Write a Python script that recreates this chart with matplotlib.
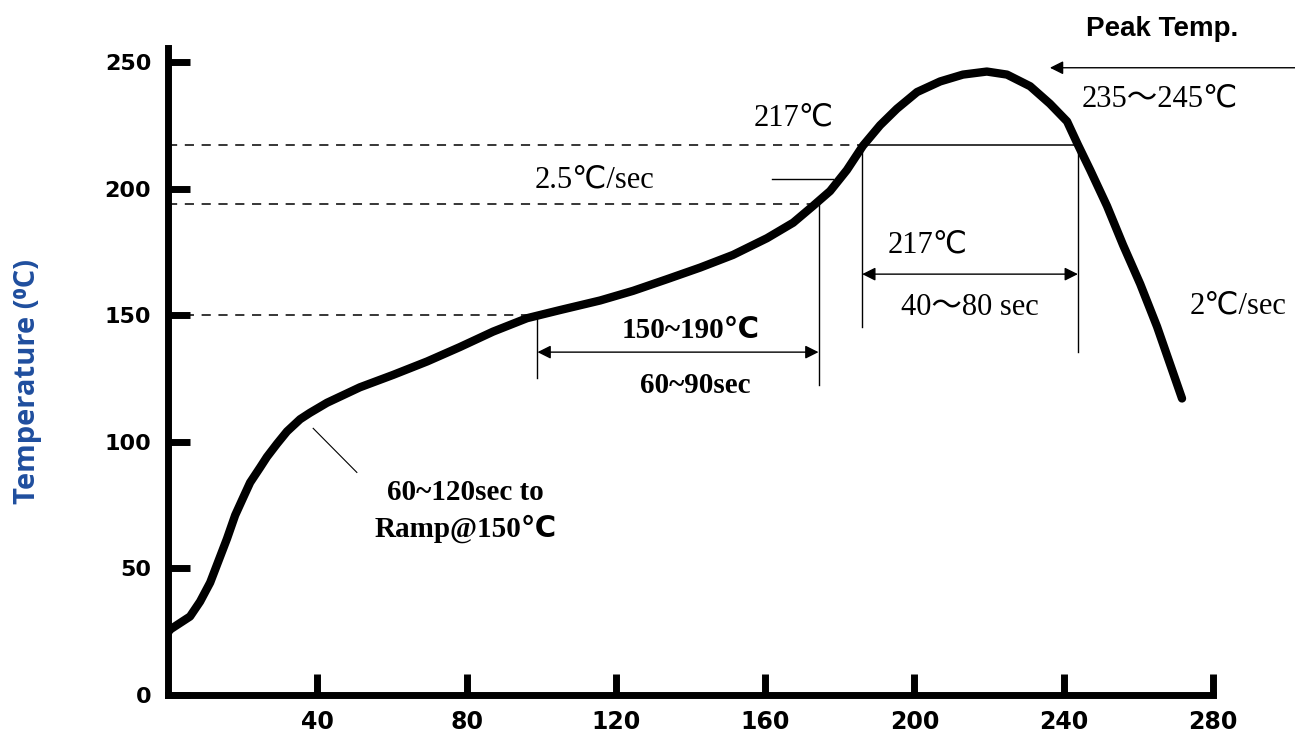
import matplotlib
matplotlib.use('Agg')
import matplotlib.pyplot as plt

# Perfil de refusao (tempo em s, temperatura em C)
tempo = [0, 0.5, 5.9, 8.6, 11.3, 15.8, 18.0, 20.1, 22.0, 24.7, 26.5, 29.2, 31.9, 35.4, 38.0,
         42.6, 51.4, 60.3, 69.4, 78.2, 87.1, 96.2, 105.0, 115.8, 124.6, 133.7, 142.6, 151.4,
         160.5, 167.5, 172.8, 177.4, 181.9, 186.2, 190.8, 195.3, 200.7, 206.9, 213.0, 219.4,
         224.8, 231.0, 236.3, 240.9, 243.8, 247.1, 251.6, 255.9, 260.5, 265.0, 271.7]
temperatura = [24.6, 25.8, 31.0, 36.9, 44.4, 61.7, 71.0, 77.8, 83.9, 89.9, 94.0, 99.2, 104.1,
               108.9, 111.4, 115.4, 121.5, 126.4, 131.7, 137.4, 143.5, 148.8, 152.0, 155.8,
               159.6, 164.2, 168.8, 173.8, 180.4, 186.5, 193.1, 199.0, 207.3, 216.9, 225.0,
               231.5, 238.1, 242.3, 245.0, 246.2, 245.0, 240.4, 233.5, 226.5, 217.3, 207.3,
               193.1, 177.7, 162.3, 145.5, 117.1]

xticks = [40, 80, 120, 160, 200, 240, 280]
yticks = [0, 50, 100, 150, 200, 250]

# linhas de referencia
t_liquidus = 217
t_soak_fim = 194
t_soak_ini = 150
x_soak_ini = 99
x_soak_fim = 174.3
x_liq_ini = 186
x_liq_fim = 243.8

serif = ['Liberation Serif', 'DejaVu Sans', 'Noto Sans CJK SC']

fig = plt.figure(figsize=(12.95, 7.35), dpi=100)
ax = fig.add_axes([168/1295, 40/735, 1045/1295, 647/735])

ax.plot(tempo, temperatura, color='black', lw=6, solid_capstyle='round',
        solid_joinstyle='round', zorder=5)

# tracejadas horizontais
ax.plot([0, x_liq_ini], [t_liquidus, t_liquidus], color='black', lw=1.1, ls=(0, (6, 5)))
ax.plot([x_liq_ini, x_liq_fim], [t_liquidus, t_liquidus], color='black', lw=1.1)
ax.plot([0, x_soak_fim], [t_soak_fim, t_soak_fim], color='black', lw=1.1, ls=(0, (6, 5)))
ax.plot([0, x_soak_ini], [t_soak_ini, t_soak_ini], color='black', lw=1.1, ls=(0, (6, 5)))

# verticais
ax.plot([x_soak_ini, x_soak_ini], [t_soak_ini, 125.2], color='black', lw=1)
ax.plot([x_soak_fim, x_soak_fim], [t_soak_fim, 122.4], color='black', lw=1)
ax.plot([x_liq_ini, x_liq_ini], [t_liquidus, 145.5], color='black', lw=1)
ax.plot([x_liq_fim, x_liq_fim], [t_liquidus, 135.4], color='black', lw=1)

# setas duplas
seta = dict(arrowstyle='<|-|>', color='black', lw=1, mutation_scale=20, shrinkA=0, shrinkB=0)
ax.annotate('', xy=(x_soak_ini, 135.4), xytext=(x_soak_fim, 135.4), arrowprops=seta)
ax.annotate('', xy=(x_liq_ini, 166.2), xytext=(x_liq_fim, 166.2), arrowprops=seta)

# seta do pico
ax.annotate('', xy=(236.3, 247.7), xytext=(302, 247.7), annotation_clip=False,
            arrowprops=dict(arrowstyle='-|>', color='black', lw=1, mutation_scale=20,
                            shrinkA=0, shrinkB=0))

# linhas de chamada
ax.plot([161.8, 178.2], [203.8, 203.8], color='black', lw=1)
ax.plot([38.9, 50.6], [105.3, 87.9], color='black', lw=0.8)

# textos
ax.text(266.3, 263, 'Peak Temp.', family=['Liberation Sans', 'DejaVu Sans'], weight='bold',
        fontsize=20, ha='center', va='center', clip_on=False)
ax.text(265.8, 235.4, '235～245℃', family=serif, fontsize=22, ha='center', va='center', clip_on=False)
ax.text(167.5, 227.7, '217℃', family=serif, fontsize=22, ha='center', va='center')
ax.text(114.4, 203.5, '2.5℃/sec', family=serif, fontsize=22, ha='center', va='center')
ax.text(203.6, 177.7, '217℃', family=serif, fontsize=22, ha='center', va='center')
ax.text(214.9, 153, '40～80 sec', family=serif, fontsize=22, ha='center', va='center')
ax.text(286.7, 153.8, '2℃/sec', family=serif, fontsize=22, ha='center', va='center', clip_on=False)
ax.text(139.9, 143.9, '150~190℃', family=serif, fontsize=21, weight='bold', ha='center', va='center')
ax.text(141.2, 122.4, '60~90sec', family=serif, fontsize=21, weight='bold', ha='center', va='center')
ax.text(79.8, 79.8, '60~120sec to', family=serif, fontsize=21, weight='bold', ha='center', va='center')
ax.text(79.8, 65.7, 'Ramp@150℃', family=serif, fontsize=21, weight='bold', ha='center', va='center')

ax.set_xlim(0, 280)
ax.set_ylim(0, 255.5)
ax.set_xticks(xticks)
ax.set_yticks(yticks)
for s in ['top', 'right']:
    ax.spines[s].set_visible(False)
for s in ['left', 'bottom']:
    ax.spines[s].set_linewidth(5)
ax.tick_params(axis='y', direction='in', length=16, width=5, pad=12, labelsize=16)
ax.tick_params(axis='x', direction='in', length=15, width=5, pad=11, labelsize=17)
for lab in ax.get_xticklabels() + ax.get_yticklabels():
    lab.set_family(['DejaVu Sans'])
    lab.set_weight('bold')

fig.text(28/1295, 1 - 382/735, 'Temperature (⁰C)', rotation=90, ha='center', va='center',
         color='#1F4E9E', fontsize=21, weight='bold', family=['Open Sans', 'DejaVu Sans'])

plt.savefig('out.png', dpi=100)
plt.close()
